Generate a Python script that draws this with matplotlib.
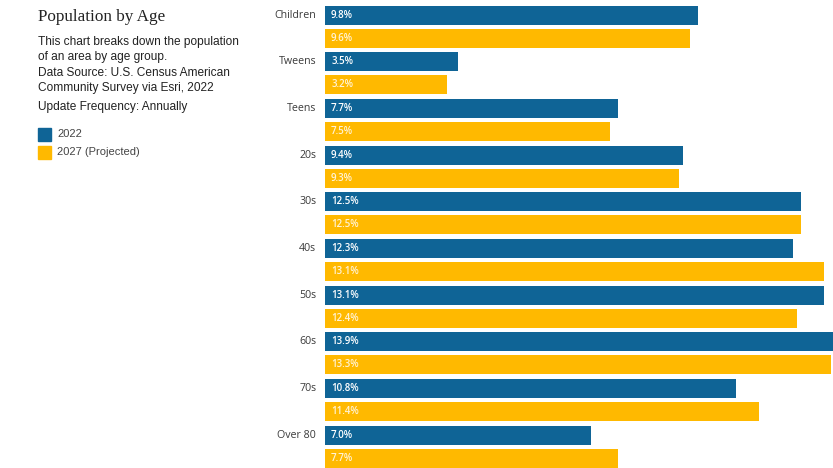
import numpy as np
import matplotlib.pyplot as plt

groups = ['Children', 'Tweens', 'Teens', '20s', '30s', '40s', '50s', '60s', '70s', 'Over 80']
pop_2022 = [9.8, 3.5, 7.7, 9.4, 12.5, 12.3, 13.1, 13.9, 10.8, 7.0]
pop_2027 = [9.6, 3.2, 7.5, 9.3, 12.5, 13.1, 12.4, 13.3, 11.4, 7.7]
series_names = ['2022', '2027 (Projected)']

blue = '#0f6496'
yellow = '#ffb900'

W, H = 833, 468
fig = plt.figure(figsize=(W / 100, H / 100), dpi=100)

# bar panel, placed in pixel terms
left, right, top, bottom = 325, 833, 4, 468
ax = fig.add_axes([left / W, 1 - bottom / H, (right - left) / W, (bottom - top) / H])

y = np.arange(len(groups))
pitch = 46.67
bh = 19 / pitch
ax.barh(y, pop_2022, height=bh, color=blue, align='center')
ax.barh(y + 23.3 / pitch, pop_2027, height=bh, color=yellow, align='center')

ax.set_xlim(0, (right - left) / 38.06)
ax.set_ylim((bottom - 15) / pitch, -(15 - top) / pitch)
ax.axis('off')

for i, g in enumerate(groups):
    ax.text(-0.23, y[i], g, ha='right', va='center', fontsize=7.7,
            family='Open Sans', color='#3a3a3a')
    ax.text(0.16, y[i], f'{pop_2022[i]:.1f}%', ha='left', va='center',
            fontsize=7, family='Open Sans', fontweight='semibold', color='white')
    ax.text(0.16, y[i] + 23.3 / pitch, f'{pop_2027[i]:.1f}%', ha='left', va='center',
            fontsize=7, family='Open Sans', fontweight='semibold', color='#fff3d6')

# left description panel
fig.text(38 / W, 1 - 17 / H, 'Population by Age', family='Liberation Serif',
         fontsize=12.3, va='center', ha='left', color='#222222')
body = [
    (42, 'This chart breaks down the population'),
    (57, 'of an area by age group.'),
    (73, 'Data Source: U.S. Census American'),
    (88, 'Community Survey via Esri, 2022'),
    (107, 'Update Frequency: Annually'),
]
for py, line in body:
    fig.text(38 / W, 1 - py / H, line, family='Liberation Sans', fontsize=8.6,
             va='center', ha='left', color='#222222')

for k, (name, col) in enumerate(zip(series_names, [blue, yellow])):
    cy = 134 + k * 18
    fig.patches.append(plt.Rectangle((38 / W, 1 - (cy + 6.5) / H), 13 / W, 13 / H,
                                     transform=fig.transFigure, color=col))
    fig.text(57 / W, 1 - cy / H, name, family='Liberation Sans', fontsize=8,
             va='center', ha='left', color='#444444')

fig.savefig('out.png', dpi=100)
